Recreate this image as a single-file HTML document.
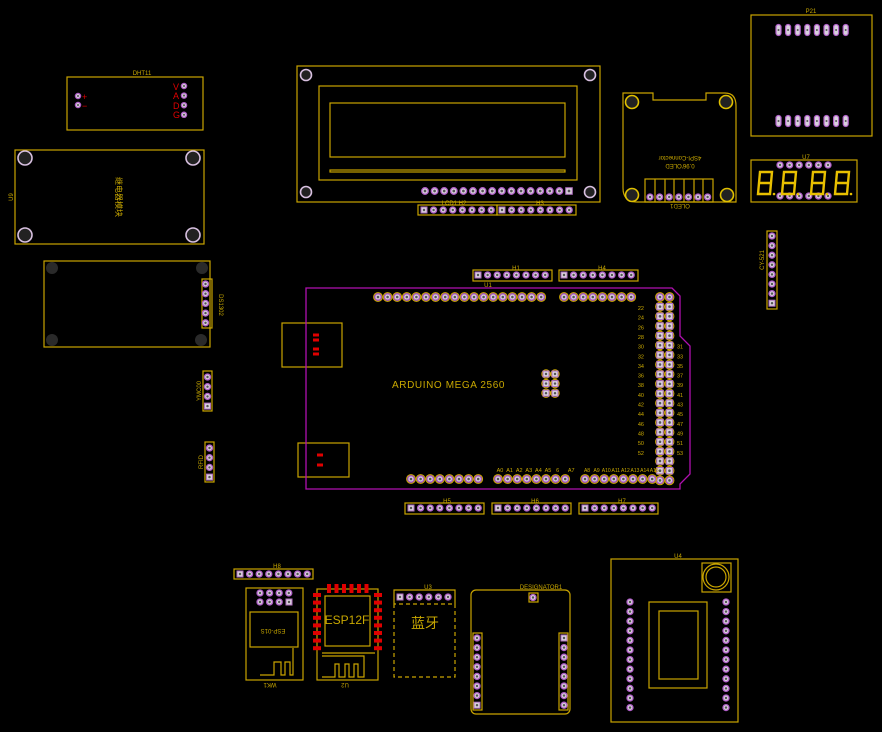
<!DOCTYPE html>
<html><head><meta charset="utf-8"><style>
html,body{margin:0;padding:0;background:#000;width:882px;height:732px;overflow:hidden}
svg{display:block}
text{font-family:"Liberation Sans","Noto Sans CJK SC",sans-serif;fill:#c9a800}
</style></head><body>
<svg id="s" width="882" height="732" viewBox="0 0 882 732" xmlns="http://www.w3.org/2000/svg">
<rect width="882" height="732" fill="#000"/>
<g fill="none" stroke="#c9a400" stroke-width="1.2">
<rect x="67" y="77" width="136" height="53"/>
<rect x="15" y="150" width="189" height="94"/>
<rect x="44" y="261" width="166" height="86"/>
<rect x="202" y="279" width="10" height="49"/>
<rect x="203" y="371" width="9" height="40"/>
<rect x="205" y="442" width="9" height="40"/>
<rect x="297" y="66" width="303" height="136"/>
<rect x="319" y="86" width="258" height="94"/>
<rect x="330" y="103" width="235" height="54"/>
<rect x="330" y="170" width="235" height="2"/>
<rect x="418" y="205" width="79" height="10"/>
<rect x="497" y="205" width="79" height="10"/>
<path d="M623,93 H653 V100 H706 V93 H725 Q736,93 736,106 V202 H637 Q623,202 623,188 Z"/>
<rect x="645" y="179" width="68" height="23"/>
<path d="M655,179V202M665,179V202M674,179V202M684,179V202M694,179V202M703,179V202"/>
<rect x="751" y="15" width="121" height="121"/>
<rect x="751" y="160" width="106" height="42"/>
<rect x="767" y="231" width="10" height="78"/>
<rect x="282" y="323" width="60" height="44"/>
<rect x="298" y="443" width="51" height="34"/>
<rect x="473" y="270" width="79" height="11"/>
<rect x="559" y="270" width="79" height="11"/>
<rect x="405" y="503" width="79" height="11"/>
<rect x="492" y="503" width="79" height="11"/>
<rect x="579" y="503" width="79" height="11"/>
<rect x="234" y="569" width="79" height="10"/>
<rect x="246" y="588" width="57" height="92"/>
<rect x="250" y="612" width="48" height="35"/>
<path d="M260,675 H274 V662 H281 V675 H285 V662 H290 V675 H293 V648"/>
<rect x="317" y="589" width="61" height="91"/>
<rect x="325" y="596" width="45" height="50"/>
<path d="M322,653 H375 M322,677 H335 V664 H339 V677 H345 V664 H349 V677 H354 V664 H358 V677 H364 V656 H322"/>
<path d="M394,604 V590 H455 V604"/>
<path d="M394,604 V677 H455 V604 H394" stroke-dasharray="4,3"/>
<rect x="471" y="590" width="99" height="124" rx="5"/>
<rect x="529" y="593" width="9" height="9"/>
<rect x="473" y="633" width="9" height="77"/>
<rect x="559" y="633" width="9" height="77"/>
<rect x="611" y="559" width="127" height="163"/>
<rect x="702" y="563" width="29" height="29"/>
<circle cx="716" cy="577" r="13"/>
<circle cx="716" cy="577" r="10"/>
<rect x="649" y="602" width="58" height="86"/>
<rect x="659" y="611" width="39" height="68"/>
</g>
<path d="M306,288 H672 L680,296 V336 L690,346 V474 L680,484 V489 H306 Z" fill="none" stroke="#b010b0" stroke-width="1.3"/>
<g id="pads"></g>
<g id="red" fill="#e00000"></g>
<g font-size="6">
<text x="142" y="75" text-anchor="middle">DHT11</text>
<text x="454" y="205" text-anchor="middle">LCD1 H2</text>
<text x="540" y="205" text-anchor="middle">H3</text>
<text x="811" y="13" text-anchor="middle">P21</text>
<text x="806" y="159" text-anchor="middle">U7</text>
<text x="516" y="270" text-anchor="middle">H1</text>
<text x="602" y="270" text-anchor="middle">H4</text>
<text x="488" y="287" text-anchor="middle">U1</text>
<text x="447" y="503" text-anchor="middle">H5</text>
<text x="535" y="503" text-anchor="middle">H6</text>
<text x="622" y="503" text-anchor="middle">H7</text>
<text x="277" y="568" text-anchor="middle">H8</text>
<text x="428" y="589" text-anchor="middle">U3</text>
<text x="541" y="589" text-anchor="middle">DESIGNATOR1</text>
<text x="678" y="558" text-anchor="middle">U4</text>
<text transform="translate(270,683) rotate(180)" text-anchor="middle">WK1</text>
<text transform="translate(345,683) rotate(180)" text-anchor="middle">U2</text>
<text transform="translate(680,204) rotate(180)" text-anchor="middle">OLED1</text>
<text transform="translate(680,156) rotate(180)" text-anchor="middle">4SPI-Connector</text>
<text transform="translate(680,164) rotate(180)" text-anchor="middle">0.96'OLED</text>
<text transform="translate(13,197) rotate(-90)" text-anchor="middle">U9</text>
<text transform="translate(764,260) rotate(-90)" text-anchor="middle">CY-521</text>
<text transform="translate(219,305) rotate(90)" text-anchor="middle">DS1302</text>
<text transform="translate(201,391) rotate(-90)" text-anchor="middle">YMC00</text>
<text transform="translate(203,462) rotate(-90)" text-anchor="middle">RFID</text>
<text transform="translate(273,629) rotate(180)" text-anchor="middle">ESP-01S</text>
<text transform="translate(116,197) rotate(90)" text-anchor="middle" font-size="8">继电器模块</text>
</g>
<text x="392" y="388" font-size="10" letter-spacing="0.6">ARDUINO MEGA 2560</text>
<text x="347" y="624" font-size="12" text-anchor="middle">ESP12F</text>
<text x="425" y="628" font-size="14" text-anchor="middle">蓝牙</text>
<g font-size="9">
<text x="82" y="100" style="fill:#e00000">+</text><text x="82" y="109" style="fill:#e00000">−</text>
<text x="173" y="90" style="fill:#e00000">V</text><text x="173" y="99" style="fill:#e00000">A</text>
<text x="173" y="109" style="fill:#e00000">D</text><text x="173" y="118" style="fill:#e00000">G</text>
</g>
<g id="lbl" font-size="5.5"></g>
<g id="seg" fill="none" stroke="#e8c000" stroke-width="2.4"></g>
</svg>
<script>
var NS="http://www.w3.org/2000/svg";
function el(p,t,a){var e=document.createElementNS(NS,t);for(var k in a)e.setAttribute(k,a[k]);document.getElementById(p).appendChild(e);return e;}
function pad(x,y,o){o=o||{};var r=o.r||3.6;
 if(o.ring){el("pads","circle",{cx:x,cy:y,r:r+1.2,fill:"none",stroke:"#d4b000","stroke-width":1});}
 if(o.sq){el("pads","rect",{x:x-r,y:y-r,width:2*r,height:2*r,fill:"#d8d0dc",stroke:"#b070c0","stroke-width":1});}
 else el("pads","circle",{cx:x,cy:y,r:r,fill:"#d8d0dc",stroke:"#b060c8","stroke-width":1.3});
 el("pads","circle",{cx:x,cy:y,r:r*0.4,fill:"#555"});}
function row(x0,y,n,st,o,sqFirst){for(var i=0;i<n;i++){var oo=Object.assign({},o||{});if(sqFirst&&i==0)oo.sq=1;pad(x0+i*st,y,oo);}}
function col(x,y0,n,st,o,sqIdx){for(var i=0;i<n;i++){var oo=Object.assign({},o||{});if(i===sqIdx)oo.sq=1;pad(x,y0+i*st,oo);}}
function hole(x,y,r,c,s){el("pads","circle",{cx:x,cy:y,r:r,fill:c,stroke:s,"stroke-width":1.6});}
pad(78,96,{r:2.6});pad(78,105,{r:2.6});col(184,86,4,9.6,{r:2.6});
[[25,158],[193,158],[25,235],[193,235]].forEach(function(p){hole(p[0],p[1],7,"#222","#d8c0e0");});
[[52,268],[202,268],[52,340],[201,340]].forEach(function(p){hole(p[0],p[1],6,"#2a2a2a","none");});
col(205.5,284,5,9.7,{r:3});col(207.5,377,4,9.7,{r:3},3);col(209.5,448,4,9.7,{r:3},3);
[[306,75],[590,75],[306,192],[590,192]].forEach(function(p){hole(p[0],p[1],5.5,"#222","#d8c0e0");});
row(425,191,15,9.6,{r:3.3});pad(569,191,{r:3.3,sq:1});
row(424,210,8,9.6,{r:3},1);row(502,210,8,9.6,{r:3},1);
[[632,102],[726,102],[632,195],[727,195]].forEach(function(p){hole(p[0],p[1],6.5,"#222","#e0c000");});
row(650,197,7,9.6,{r:3});
for(var i=0;i<8;i++){[30,121].forEach(function(y){el("pads","rect",{x:776+i*9.6,y:y-5.5,width:5,height:11,rx:2.5,fill:"#d8d0dc",stroke:"#b060c8","stroke-width":1.2});el("pads","circle",{cx:778.5+i*9.6,cy:y,r:1,fill:"#555"});});}
row(780,165,6,9.6,{r:3});row(780,196,6,9.6,{r:3});
col(772,236,8,9.6,{r:3},7);
row(378,297,10,9.6,{r:3.2,ring:1});row(474,297,8,9.6,{r:3.2,ring:1});row(564,297,8,9.6,{r:3.2,ring:1});
for(var j=0;j<20;j++){var sq=(j>0&&j<19);pad(660,297+j*9.65,{r:3.2,ring:1,sq:sq});pad(669.5,297+j*9.65,{r:3.2,ring:1,sq:sq});}
row(411,479,8,9.6,{r:3.2,ring:1});row(498,479,8,9.6,{r:3.2,ring:1});row(585,479,8,9.6,{r:3.2,ring:1});
for(var j=0;j<3;j++){pad(546,374+j*9.6,{r:3,ring:1,sq:1});pad(555,374+j*9.6,{r:3,ring:1,sq:1});}
row(478,275,8,9.6,{r:3},1);row(564,275,8,9.6,{r:3},1);
row(411,508,8,9.6,{r:3},1);row(498,508,8,9.6,{r:3},1);row(585,508,8,9.6,{r:3},1);
for(var j=0;j<16;j++){var y=310+j*9.65;el("lbl","text",{x:644,y:y,"text-anchor":"end"}).textContent=22+2*j;if(j>=4){el("lbl","text",{x:677,y:y}).textContent=23+2*j;}}
var bl=["A0","A1","A2","A3","A4","A5","6","A7"];bl.forEach(function(t,i){el("lbl","text",{x:500+i*9.6+(i==7?4:0),y:472,"text-anchor":"middle"}).textContent=t;});
var bl2=["A8","A9","A10","A11","A12","A13","A14","A15"];bl2.forEach(function(t,i){el("lbl","text",{x:587+i*9.6,y:472,"text-anchor":"middle","font-size":"5"}).textContent=t;});
[[316,335],[316,340],[316,349],[316,354],[320,455],[320,465]].forEach(function(p){el("red","rect",{x:p[0]-3,y:p[1]-1.5,width:6,height:3});});
for(var i=0;i<6;i++){el("red","rect",{x:327+i*7.5,y:584,width:4,height:9});}
for(var i=0;i<8;i++){el("red","rect",{x:313,y:593+i*7.6,width:8,height:4});el("red","rect",{x:374,y:593+i*7.6,width:8,height:4});}
row(240,574,8,9.6,{r:3},1);
row(260,593,4,9.6,{r:3});row(260,602,3,9.6,{r:3});pad(289,602,{r:3,sq:1});
row(400,597,6,9.6,{r:3},1);
pad(533,597.5,{r:3});
col(477,638,8,9.6,{r:3},7);col(564,638,8,9.6,{r:3},0);
col(630,602,12,9.6,{r:3});col(726,602,12,9.6,{r:3});
[757,781,810,834].forEach(function(x){el("seg","path",{d:"M"+(x+3)+",172 H"+(x+15)+" L"+(x+13)+",194 H"+(x+1)+" Z M"+(x+2)+",183 H"+(x+14)});el("seg","circle",{cx:x+17,cy:194,r:1.3,fill:"#e8c000",stroke:"none"});});
</script>
</body></html>
